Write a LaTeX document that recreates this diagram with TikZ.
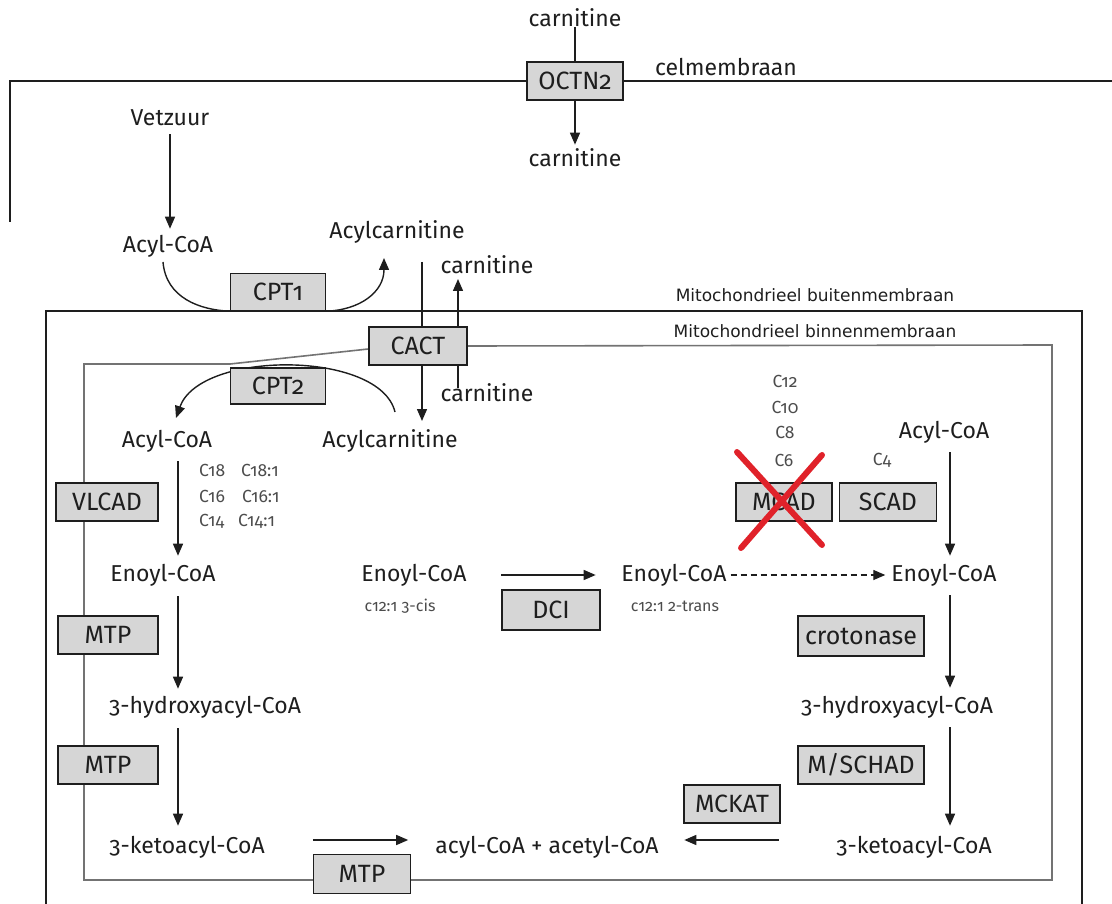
\documentclass[tikz,border=0pt]{standalone}
\usepackage{fontspec}
\setmainfont{Fira Sans}[Numbers=OldStyle]
\newfontfamily\labfont{DejaVu Sans}
\usetikzlibrary{arrows.meta}
\pgfdeclarelayer{bg}
\pgfsetlayers{bg,main}
\definecolor{ink}{HTML}{1E1E1E}
\definecolor{boxfill}{HTML}{D6D6D6}
\definecolor{xred}{HTML}{E0222A}
\begin{document}
\begin{tikzpicture}[x=1pt,y=-1pt,
  enz/.style={draw=ink, fill=boxfill, line width=1.4pt, minimum width=96pt, minimum height=38pt, inner sep=0pt, text=ink, font=\fontsize{25}{28}\selectfont},
  met/.style={inner sep=0pt, text=ink, font=\fontsize{23}{26}\selectfont},
  small/.style={inner sep=0pt, text=black!70, font=\fontsize{17.5}{20}\selectfont},
  tiny/.style={inner sep=0pt, text=black!70, font=\fontsize{16}{19}\selectfont},
  lab/.style={inner sep=0pt, text=ink, font=\labfont\fontsize{17}{20}\selectfont},
  arr/.style={-{Triangle[width=10pt,length=12pt]}, line width=1.4pt, draw=ink},
  ln/.style={line width=1.4pt, draw=ink},
  mem/.style={line width=1.6pt, draw=ink},
  inmem/.style={line width=1.6pt, draw=black!55}]
\useasboundingbox (0,0) rectangle (1112,904);

% ---- top / cell membrane
\node[met] (carnA) at (575,18) {carnitine};
\node[enz] (octn) at (575,81) {OCTN2};
\node[met] (carnB) at (575,158) {carnitine};
\node[met] (cel) at (726,67) {celmembraan};
\node[met] (vet) at (170,118) {Vetzuur};
\node[met] (acyl1) at (168,246) {Acyl-CoA};
\node[met] (acylc1) at (397,232) {Acylcarnitine};
\node[enz, minimum width=95pt, minimum height=37pt] (cpt1) at (278,292) {CPT1};
\node[met] (carnC) at (487,265) {carnitine};
\node[lab] (outer) at (815,295) {Mitochondrieel buitenmembraan};
\node[enz, minimum width=98pt] (cact) at (418,346) {CACT};
\node[lab] (inner) at (815,331) {Mitochondrieel binnenmembraan};
\node[enz, minimum width=95pt, minimum height=36pt] (cpt2) at (278,386) {CPT2};
\node[met] (carnD) at (487,393) {carnitine};
\node[met] (acyl2) at (167,441) {Acyl-CoA};
\node[met] (acylc2) at (390,441) {Acylcarnitine};

% ---- left column
\node[enz, minimum width=102pt] (vlcad) at (107,502) {VLCAD};
\node[small, anchor=west] (c18) at (199,470) {C18};
\node[small, anchor=west] (c181) at (241,470) {C18:1};
\node[small, anchor=west] (c16) at (199,496) {C16};
\node[small, anchor=west] (c161) at (242,496) {C16:1};
\node[small, anchor=west] (c14) at (199,521) {C14};
\node[small, anchor=west] (c141) at (238,521) {C14:1};
\node[met] (enoyl1) at (163,575) {Enoyl-CoA};
\node[enz, minimum width=100pt] (mtp1) at (108,635) {MTP};
\node[met] (hyd1) at (205,707) {3-hydroxyacyl-CoA};
\node[enz, minimum width=100pt] (mtp2) at (108,765) {MTP};
\node[met] (keto1) at (187,847) {3-ketoacyl-CoA};
\node[enz, minimum width=97pt, minimum height=39pt] (mtp3) at (362,874) {MTP};
\node[met] (prod) at (547,847) {acyl-CoA + acetyl-CoA};

% ---- middle
\node[met] (enoyl2) at (414,575) {Enoyl-CoA};
\node[tiny] (cis) at (400,606) {c12:1 3-cis};
\node[enz, minimum width=98pt, minimum height=40pt] (dci) at (551,610) {DCI};
\node[met] (enoyl3) at (674,575) {Enoyl-CoA};
\node[tiny] (trans) at (675,606) {c12:1 2-trans};

% ---- right column
\node[small] (c12) at (785,381) {C12};
\node[small] (c10) at (785,407) {C10};
\node[small] (c8) at (785,432) {C8};
\node[small] (c6) at (784,460) {C6};
\node[small] (c4) at (882,460) {C4};
\node[met] (acyl3) at (944,432) {Acyl-CoA};
\node[enz] (mcad) at (784,502) {MCAD};
\node[enz, minimum width=97pt] (scad) at (888,502) {SCAD};
\node[met] (enoyl4) at (944,575) {Enoyl-CoA};
\node[enz, minimum width=126pt, minimum height=40pt] (crot) at (861,636) {crotonase};
\node[met] (hyd2) at (897,707) {3-hydroxyacyl-CoA};
\node[enz, minimum width=126pt] (mschad) at (861,765) {M/SCHAD};
\node[enz] (mckat) at (732,804) {MCKAT};
\node[met] (keto2) at (914,847) {3-ketoacyl-CoA};

% ---- free ends
\coordinate (xL) at (178,0);
\coordinate (xR) at (950,0);
\coordinate (cp1s) at (163,262);
\coordinate (cp1e) at (384,258);
\coordinate (acT) at (422,262);
\coordinate (acB) at (422,421);
\coordinate (cuB) at (458,388);
\coordinate (cuT) at (458,279);
\coordinate (cp2s) at (395,412);
\coordinate (cp2e) at (176,418);

\begin{pgfonlayer}{bg}
  % membranes
  \draw[mem] (10,222) -- (10,81) -- (octn.west);
  \draw[mem] (octn.east) -- (1112,81);
  \draw[mem] (46,904) -- (46,311) -- (1082,311) -- (1082,904);
  \draw[inmem] (cact.east) -- (1052,345) -- (1052,880) -- (84,880) -- (84,364) -- (230,364) -- ([yshift=-3pt]cact.west);
  % transport
  \draw[ln] (carnA.south) -- (octn.north);
  \draw[arr, shorten >=4pt] (octn.south) -- (carnB.north);
  \draw[arr, shorten <=8pt, shorten >=6pt] (vet.south) -- (vet.south |- acyl1.north);
  \draw[ln] (cp1s) .. controls (166,298) and (200,310) .. (cpt1.south west);
  \draw[arr] (cpt1.south east) .. controls (360,310) and (384,292) .. (cp1e);
  \draw[arr] (acT) -- (acB);
  \draw[arr] (cuB) -- (cuT);
  \draw[arr] (cp2s) .. controls (380,350) and (200,350) .. (cp2e);
\end{pgfonlayer}

% ---- left pathway arrows
\draw[arr, shorten <=9pt, shorten >=8pt] (acyl2.south -| xL) -- (enoyl1.north -| xL);
\draw[arr, shorten <=10pt, shorten >=7pt] (enoyl1.south -| xL) -- (hyd1.north -| xL);
\draw[arr, shorten <=10pt, shorten >=10pt] (hyd1.south -| xL) -- (keto1.north -| xL);
\draw[arr] ([yshift=7pt]mtp3.west |- keto1) -- ([xshift=-3pt,yshift=7pt]mtp3.east |- keto1);
% ---- middle
\draw[arr] (dci.west |- enoyl2) -- ([xshift=-5pt]dci.east |- enoyl3);
\draw[arr, dashed, dash pattern=on 6pt off 4pt, shorten <=4pt, shorten >=6pt] (enoyl3.east) -- (enoyl4.west);
% ---- right pathway arrows
\draw[arr, shorten <=9pt, shorten >=8pt] (acyl3.south -| xR) -- (enoyl4.north -| xR);
\draw[arr, shorten <=9pt, shorten >=8pt] (enoyl4.south -| xR) -- (hyd2.north -| xR);
\draw[arr, shorten <=9pt, shorten >=10pt] (hyd2.south -| xR) -- (keto2.north -| xR);
\draw[arr] ([xshift=-2pt,yshift=7pt]mckat.east |- keto2) -- ([xshift=1pt,yshift=7pt]mckat.west |- keto2);

% ---- red cross
\draw[xred, line width=6pt, line cap=round] (737,452) -- (822,545);
\draw[xred, line width=6pt, line cap=round] (822,455) -- (741,548);
\end{tikzpicture}
\end{document}
